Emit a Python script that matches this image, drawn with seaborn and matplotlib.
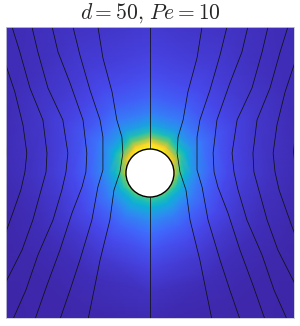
import numpy as np
import matplotlib
matplotlib.use("Agg")
import matplotlib.pyplot as plt
import matplotlib.tri as mtri
from matplotlib.colors import LinearSegmentedColormap
from matplotlib.patches import Circle
import seaborn as sns

# concentration, along rays from the particle centre
# (angle measured from "up", towards the left; 0..1 on the colour scale)
radii = [1.0, 1.12, 1.25, 1.45, 1.7, 2.0, 2.5, 3.2, 4.0, 5.0, 6.5, 9.5]
conc_000 = [1.00, 0.97, 0.90, 0.70, 0.52, 0.39, 0.27, 0.185, 0.13, 0.09, 0.06, 0.04]
conc_030 = [0.98, 0.94, 0.85, 0.66, 0.50, 0.37, 0.26, 0.175, 0.12, 0.08, 0.05, 0.03]
conc_060 = [0.92, 0.84, 0.72, 0.57, 0.44, 0.33, 0.235, 0.155, 0.10, 0.06, 0.03, 0.01]
conc_090 = [0.80, 0.68, 0.57, 0.46, 0.36, 0.28, 0.19, 0.12, 0.075, 0.04, 0.015, 0.0]
conc_120 = [0.68, 0.58, 0.50, 0.41, 0.33, 0.26, 0.18, 0.11, 0.065, 0.03, 0.005, 0.0]
conc_150 = [0.62, 0.55, 0.49, 0.41, 0.34, 0.27, 0.19, 0.12, 0.07, 0.03, 0.005, 0.0]
conc_180 = [0.62, 0.56, 0.50, 0.43, 0.36, 0.30, 0.22, 0.15, 0.09, 0.04, 0.01, 0.0]
ray_angles = [0, 30, 60, 90, 120, 150, 180, 210, 240, 270, 300, 330]
ray_profiles = [conc_000, conc_030, conc_060, conc_090, conc_120, conc_150,
                conc_180, conc_150, conc_120, conc_090, conc_060, conc_030]

# streamlines (x, y), particle radius = 1
stream_g_x = [-6.5, -6.12, -5.98, -6.12, -6.5]
stream_g_y = [4.0, 2.2, 0.9, -0.4, -2.0]
stream_a_x = [-6.1, -6.0, -5.63, -5.29, -5.13, -5.21, -5.38, -5.67, -6.0, -6.1]
stream_a_y = [4.8, 4.5, 3.38, 2.0, 0.83, 0.04, -0.71, -1.54, -2.46, -2.75]
stream_b_x = [-5.75, -5.42, -5.0, -4.46, -4.29, -4.33, -4.5, -4.88, -5.33, -6.0, -6.1]
stream_b_y = [6.1, 5.04, 3.54, 2.21, 0.83, 0.04, -0.58, -1.96, -3.21, -4.54, -4.8]
stream_c_x = [-4.92, -4.67, -4.25, -3.63, -3.42, -3.5, -3.67, -4.04, -4.67, -5.17, -5.71]
stream_c_y = [6.1, 5.04, 3.54, 2.21, 0.83, 0.04, -0.71, -1.96, -3.42, -4.88, -6.1]
stream_d_x = [-4.08, -3.83, -3.33, -2.79, -2.63, -2.67, -2.83, -3.25, -3.75, -4.29, -4.79]
stream_d_y = [6.1, 5.04, 3.75, 2.21, 0.83, 0.04, -0.58, -1.67, -3.21, -4.67, -6.1]
stream_e_x = [-3.21, -2.92, -2.5, -2.08, -1.96, -1.96, -2.17, -2.42, -2.92, -3.33, -3.75]
stream_e_y = [6.1, 4.92, 3.46, 2.21, 1.5, 0.13, -0.58, -1.96, -3.63, -4.88, -6.1]
stream_f_x = [-2.17, -1.96, -1.58, -1.38, -1.17, -1.13, -1.25, -1.5, -1.67, -2.08, -2.33, -2.58]
stream_f_y = [6.1, 4.79, 3.38, 2.21, 1.5, 0.83, 0.04, -0.71, -1.96, -3.63, -4.88, -6.1]
stream_top_x = [0.0, 0.0]
stream_top_y = [6.1, 1.0]
stream_bot_x = [0.0, 0.0]
stream_bot_y = [-1.0, -6.1]
# right-hand side
stream_g2_x = [6.5, 6.12, 5.98, 6.12, 6.5]
stream_a2_x = [6.1, 6.0, 5.63, 5.29, 5.13, 5.21, 5.38, 5.67, 6.0, 6.1]
stream_b2_x = [5.75, 5.42, 5.0, 4.46, 4.29, 4.33, 4.5, 4.88, 5.33, 6.0, 6.1]
stream_c2_x = [4.92, 4.67, 4.25, 3.63, 3.42, 3.5, 3.67, 4.04, 4.67, 5.17, 5.71]
stream_d2_x = [4.08, 3.83, 3.33, 2.79, 2.63, 2.67, 2.83, 3.25, 3.75, 4.29, 4.79]
stream_e2_x = [3.21, 2.92, 2.5, 2.08, 1.96, 1.96, 2.17, 2.42, 2.92, 3.33, 3.75]
stream_f2_x = [2.17, 1.96, 1.58, 1.38, 1.17, 1.13, 1.25, 1.5, 1.67, 2.08, 2.33, 2.58]

streamlines = [
    (stream_g_x, stream_g_y), (stream_a_x, stream_a_y), (stream_b_x, stream_b_y),
    (stream_c_x, stream_c_y), (stream_d_x, stream_d_y), (stream_e_x, stream_e_y),
    (stream_f_x, stream_f_y), (stream_top_x, stream_top_y), (stream_bot_x, stream_bot_y),
    (stream_g2_x, stream_g_y), (stream_a2_x, stream_a_y), (stream_b2_x, stream_b_y),
    (stream_c2_x, stream_c_y), (stream_d2_x, stream_d_y), (stream_e2_x, stream_e_y),
    (stream_f2_x, stream_f_y),
]

# parula-like colour map
parula = LinearSegmentedColormap.from_list("parula", [
    (0.2422, 0.1504, 0.6603), (0.2803, 0.2782, 0.9221), (0.2440, 0.4358, 0.9988),
    (0.1540, 0.5902, 0.9218), (0.0297, 0.7082, 0.8163), (0.1938, 0.7758, 0.6251),
    (0.5044, 0.7993, 0.3480), (0.8634, 0.7406, 0.1596), (0.9892, 0.8136, 0.1885),
    (0.9769, 0.9839, 0.0805)])

sns.set_style("white")
plt.rcParams["mathtext.fontset"] = "cm"

fig = plt.figure(figsize=(3.0, 3.26), dpi=100)
ax = fig.add_axes([0.019, 0.0245, 0.961, 0.8925])

# field on the polar sample points
px, py, pv = [], [], []
for ang, prof in zip(ray_angles, ray_profiles):
    t = np.deg2rad(ang)
    for r, v in zip(radii, prof):
        px.append(-r * np.sin(t))
        py.append(r * np.cos(t))
        pv.append(v)
px, py, pv = np.array(px), np.array(py), np.array(pv)
tri = mtri.Triangulation(px, py)
cx = px[tri.triangles].mean(axis=1)
cy = py[tri.triangles].mean(axis=1)
tri.set_mask(np.hypot(cx, cy) < 1.0)
ax.tripcolor(tri, pv, cmap=parula, vmin=0, vmax=1, shading="gouraud", zorder=1)

for sx, sy in streamlines:
    sns.lineplot(x=sx, y=sy, sort=False, estimator=None, color="#111111",
                 linewidth=0.55, ax=ax, zorder=2)

ax.add_patch(Circle((0, 0), 1.0, facecolor="white", edgecolor="black",
                    linewidth=1.0, zorder=3))

ax.set_xlim(-6.01, 6.0)
ax.set_ylim(-6.04, 6.08)
ax.set_xticks([])
ax.set_yticks([])
for s in ax.spines.values():
    s.set_color("#c8c8d8")
    s.set_linewidth(0.6)

fig.text(0.5, 1 - 13 / 326, r"$d = 50,\, Pe = 10$", ha="center", va="center",
         fontsize=15.5)

fig.savefig("out.png", dpi=100)
